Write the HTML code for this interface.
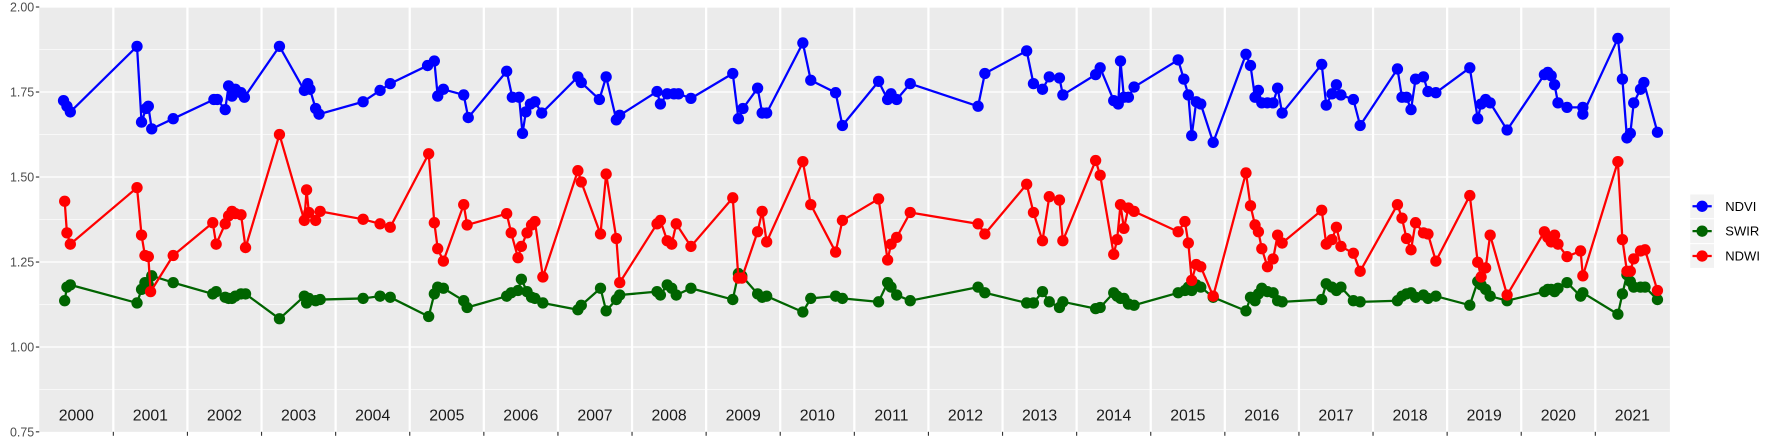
<!DOCTYPE html>
<html><head><meta charset="utf-8"><style>
html,body{margin:0;padding:0;background:#fff;}
svg{display:block;font-family:"Liberation Sans",sans-serif;}
</style></head><body>
<svg width="1773" height="442" viewBox="0 0 1568 391" xmlns="http://www.w3.org/2000/svg">
<rect x="34.5" y="6.2" width="1442.5" height="375.8" fill="#ebebeb"/>
<g stroke="#fff" stroke-width="0.55">
<line x1="34.5" x2="1477" y1="43.8" y2="43.8"/><line x1="34.5" x2="1477" y1="119" y2="119"/>
<line x1="34.5" x2="1477" y1="194.2" y2="194.2"/><line x1="34.5" x2="1477" y1="269.4" y2="269.4"/>
<line x1="34.5" x2="1477" y1="344.6" y2="344.6"/>
</g>
<g stroke="#fff" stroke-width="1.1">
<line x1="34.5" x2="1477" y1="6.2" y2="6.2"/><line x1="34.5" x2="1477" y1="81.4" y2="81.4"/>
<line x1="34.5" x2="1477" y1="156.6" y2="156.6"/><line x1="34.5" x2="1477" y1="231.8" y2="231.8"/>
<line x1="34.5" x2="1477" y1="307" y2="307"/>
</g>
<g stroke="#fff" stroke-width="2" id="vb"></g>
<g stroke="#333" stroke-width="1" id="bt"></g>
<g font-size="11" fill="#4d4d4d" text-anchor="end">
<text x="30" y="10">2.00</text><text x="30" y="85.2">1.75</text><text x="30" y="160.4">1.50</text>
<text x="30" y="235.6">1.25</text><text x="30" y="310.8">1.00</text><text x="30" y="386">0.75</text>
</g>
<g stroke="#333" stroke-width="1">
<line x1="31.5" x2="34.5" y1="6.2" y2="6.2"/><line x1="31.5" x2="34.5" y1="81.4" y2="81.4"/>
<line x1="31.5" x2="34.5" y1="156.6" y2="156.6"/><line x1="31.5" x2="34.5" y1="231.8" y2="231.8"/>
<line x1="31.5" x2="34.5" y1="307" y2="307"/><line x1="31.5" x2="34.5" y1="382" y2="382"/>
</g>
<g font-size="14" fill="#1a1a1a" text-anchor="middle" id="yl"></g>
<g id="series"></g>
<g>
<rect x="1495" y="172" width="21" height="21" fill="#f2f2f2"/>
<rect x="1495" y="194" width="21" height="21" fill="#f2f2f2"/>
<rect x="1495" y="216" width="21" height="21" fill="#f2f2f2"/>
<line x1="1497" x2="1514" y1="182.5" y2="182.5" stroke="#0000ff" stroke-width="2"/><circle cx="1505.5" cy="182.5" r="5" fill="#0000ff"/>
<line x1="1497" x2="1514" y1="204.5" y2="204.5" stroke="#006400" stroke-width="2"/><circle cx="1505.5" cy="204.5" r="5" fill="#006400"/>
<line x1="1497" x2="1514" y1="226.5" y2="226.5" stroke="#ff0000" stroke-width="2"/><circle cx="1505.5" cy="226.5" r="5" fill="#ff0000"/>
<g font-size="11.5" fill="#000"><text x="1526" y="186.5">NDVI</text><text x="1526" y="208.5">SWIR</text><text x="1526" y="230.5">NDWI</text></g>
</g>
<script>
var NS="http://www.w3.org/2000/svg";
function el(t,a,p){var e=document.createElementNS(NS,t);for(var k in a)e.setAttribute(k,a[k]);p.appendChild(e);return e;}
var vb=document.getElementById('vb'),bt=document.getElementById('bt'),yl=document.getElementById('yl');
var W=65.55;
for(var i=0;i<22;i++){var x0=34.5+i*W,x1=x0+W;if(x1>1477)x1=1477;
 if(i<21){el('line',{x1:x1,x2:x1,y1:6.2,y2:382},vb);el('line',{x1:x1,x2:x1,y1:382,y2:385.5},bt);}
 var t=el('text',{x:(x0+x1)/2,y:372},yl);t.textContent=2000+i;}
var ndvi=[[56,89],[59,94],[62,99],[121,41],[125,108],[129,96],[131,94],[134,114],[153,105],[189,88],[192,88],[199,97],[202,76],[205,85],[208,79],[213,82],[216,86],[247,41],[269,80],[272,74],[274,79],[279,96],[282,101],[321,90],[336,80],[345,74],[378,58],[384,54],[387,85],[392,79],[410,84],[414,104],[448,63],[453,86],[459,86],[462,118],[465,99],[469,92],[473,90],[479,100],[511,68],[514,73],[530,88],[536,68],[545,106],[548,102],[581,81],[584,92],[590,83],[596,83],[600,83],[611,87],[648,65],[653,105],[657,96],[670,78],[674,100],[678,100],[710,38],[717,71],[739,82],[745,111],[777,72],[785,88],[788,83],[793,88],[805,74],[865,94],[871,65],[908,45],[914,74],[922,79],[928,68],[937,69],[940,84],[969,66],[973,60],[985,89],[989,92],[991,54],[994,86],[998,86],[1003,77],[1042,53],[1047,70],[1051,84],[1054,120],[1058,90],[1062,92],[1073,126],[1102,48],[1106,58],[1110,86],[1113,80],[1116,91],[1121,91],[1126,91],[1130,78],[1134,100],[1169,57],[1173,93],[1178,83],[1182,75],[1186,84],[1197,88],[1203,111],[1236,61],[1240,86],[1244,86],[1248,97],[1252,70],[1259,68],[1263,81],[1270,82],[1300,60],[1307,105],[1310,92],[1314,88],[1318,91],[1333,115],[1366,66],[1369,64],[1372,67],[1375,75],[1378,91],[1386,95],[1400,95],[1400,101],[1431,34],[1435,70],[1439,122],[1442,118],[1445,91],[1451,79],[1454,73],[1466,117]];
var swir=[[57,266],[59,254],[62,252],[121,268],[125,256],[128,250],[131,252],[134,244],[153,250],[188,260],[191,258],[199,263],[202,264],[205,264],[208,262],[213,260],[217,260],[247,282],[269,262],[271,268],[273,264],[279,266],[283,265],[321,264],[336,262],[345,263],[379,280],[384,260],[387,254],[392,255],[410,266],[413,272],[448,262],[452,259],[458,257],[461,247],[466,258],[470,263],[473,264],[480,268],[511,274],[514,270],[531,255],[536,275],[545,265],[548,261],[581,258],[584,261],[590,252],[594,255],[598,261],[611,255],[648,265],[653,242],[656,244],[670,260],[674,263],[678,262],[710,276],[717,264],[739,262],[745,264],[777,267],[785,250],[788,254],[793,261],[805,266],[865,254],[871,259],[908,268],[914,268],[922,258],[928,267],[937,272],[940,267],[969,273],[973,272],[985,259],[988,262],[991,264],[994,264],[998,269],[1003,270],[1042,259],[1048,257],[1051,254],[1054,257],[1058,252],[1062,254],[1073,263],[1102,275],[1106,263],[1110,266],[1113,260],[1116,255],[1121,258],[1126,259],[1130,266],[1134,267],[1169,265],[1173,251],[1178,254],[1182,257],[1186,254],[1197,266],[1203,267],[1236,266],[1240,262],[1244,260],[1248,259],[1252,263],[1259,261],[1263,264],[1270,262],[1300,270],[1307,249],[1310,252],[1314,256],[1318,262],[1333,266],[1366,258],[1369,256],[1372,256],[1375,258],[1378,255],[1386,250],[1398,262],[1400,259],[1431,278],[1435,260],[1439,243],[1442,249],[1445,254],[1451,254],[1455,254],[1466,265]];
var ndwi=[[57,178],[59,206],[62,216],[121,166],[125,208],[128,226],[131,227],[133,258],[153,226],[188,197],[191,216],[199,198],[202,191],[205,187],[208,189],[213,190],[217,219],[247,119],[269,195],[271,168],[273,188],[279,195],[283,187],[321,194],[336,198],[345,201],[379,136],[384,197],[387,220],[392,231],[410,181],[413,199],[448,189],[452,206],[458,228],[461,218],[466,206],[470,199],[473,196],[480,245],[511,151],[514,161],[531,207],[536,154],[545,211],[548,250],[581,198],[584,195],[590,213],[594,216],[598,198],[611,218],[648,175],[653,246],[656,246],[670,205],[674,187],[678,214],[710,143],[717,181],[739,223],[745,195],[777,176],[785,230],[788,216],[793,210],[805,188],[865,198],[871,207],[908,163],[914,188],[922,213],[928,174],[937,177],[940,213],[969,142],[973,155],[985,225],[988,212],[991,181],[994,202],[998,184],[1003,187],[1042,205],[1048,196],[1051,215],[1054,248],[1058,234],[1062,236],[1073,262],[1102,153],[1106,182],[1110,199],[1113,205],[1116,220],[1121,236],[1126,229],[1130,208],[1134,215],[1169,186],[1173,216],[1178,212],[1182,201],[1186,218],[1197,224],[1203,240],[1236,181],[1240,193],[1244,211],[1248,221],[1252,197],[1259,206],[1263,207],[1270,231],[1300,173],[1307,232],[1310,245],[1314,237],[1318,208],[1333,261],[1366,205],[1369,210],[1372,214],[1375,208],[1378,216],[1386,227],[1398,222],[1400,244],[1431,143],[1435,212],[1439,240],[1442,240],[1445,229],[1451,222],[1455,221],[1466,257]];
var g=document.getElementById('series');
[[ndvi,'#0000ff'],[swir,'#006400'],[ndwi,'#ff0000']].forEach(function(s){
 el('polyline',{points:s[0].map(function(p){return p.join(',')}).join(' '),fill:'none',stroke:s[1],'stroke-width':2,'stroke-linejoin':'round'},g);
 s[0].forEach(function(p){el('circle',{cx:p[0],cy:p[1],r:5,fill:s[1]},g);});
});
</script>
</svg>
</body></html>
